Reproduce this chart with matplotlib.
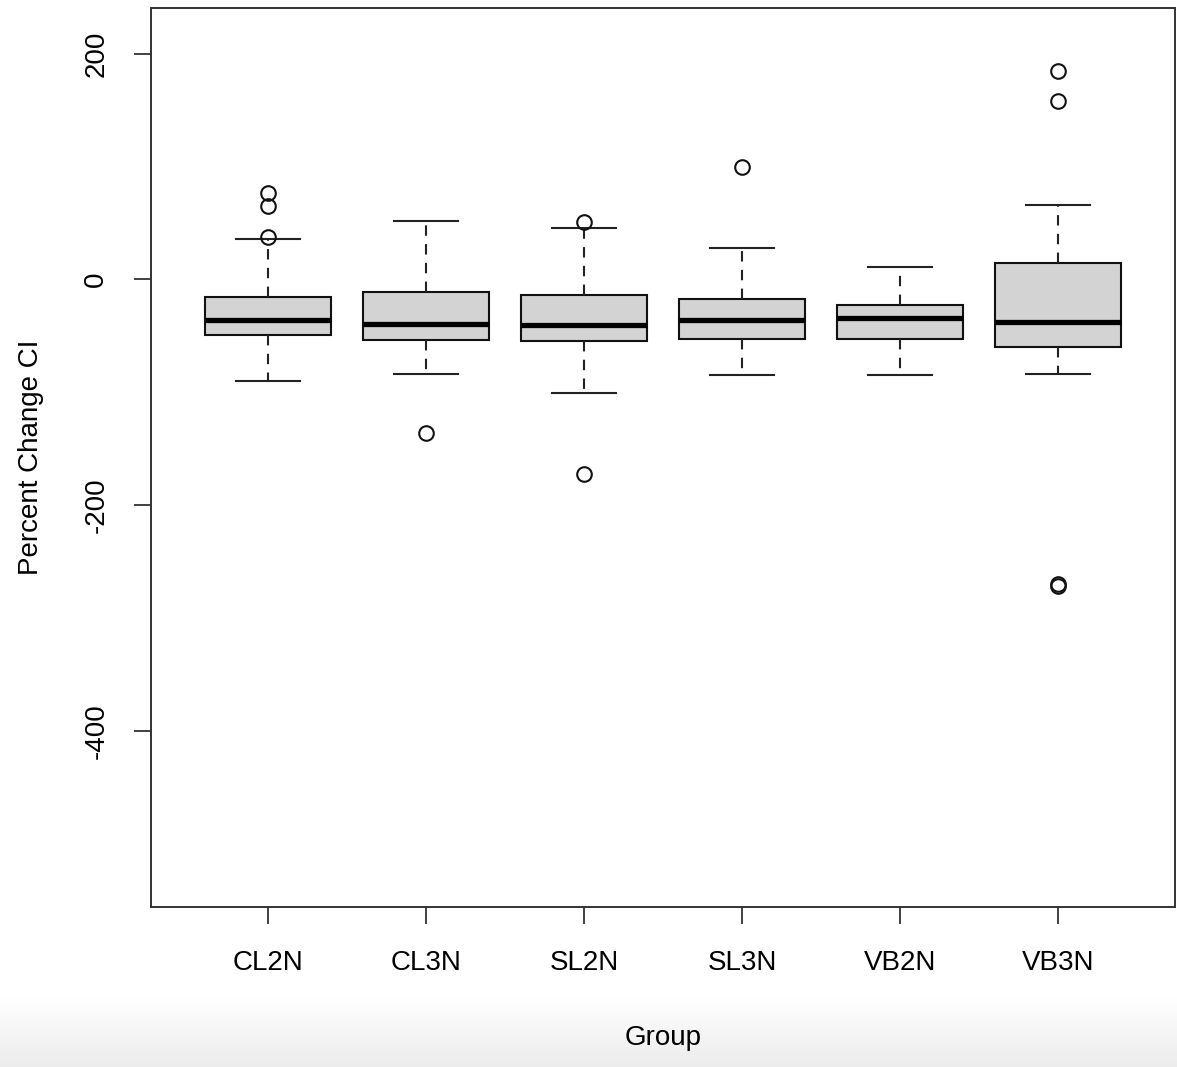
import matplotlib
matplotlib.use("Agg")
import matplotlib.pyplot as plt
import numpy as np

plt.rcParams['font.family'] = ['Liberation Sans', 'DejaVu Sans']

groups = ["CL2N", "CL3N", "SL2N", "SL3N", "VB2N", "VB3N"]
whislo = [-89.7, -84.1, -100.6, -84.9, -84.2, -83.9]
q1 = [-49.0, -53.4, -54.6, -52.3, -52.7, -59.8]
med = [-36.0, -39.5, -40.1, -36.3, -34.2, -37.5]
q3 = [-15.1, -10.9, -13.8, -17.3, -22.9, 14.3]
whishi = [36.0, 51.4, 45.8, 27.7, 11.3, 66.2]
fliers = [
    [76.5, 64.7, 37.5],
    [-136.1],
    [50.5, -172.0],
    [99.5],
    [],
    [184.1, 157.6, -269.5, -271.0],
]
yticks = [200, 0, -200, -400]

W, H = 1177, 1067
fig = plt.figure(figsize=(W / 100, H / 100), dpi=100)

# faint screenshot gradient at the bottom
gax = fig.add_axes([0, 0, 1, 0.065], zorder=-5)
grad = np.linspace(0, 1, 100).reshape(-1, 1)
gax.imshow(grad, aspect='auto', cmap=matplotlib.colors.LinearSegmentedColormap.from_list(
    'g', ['#ececec', '#ffffff']), extent=[0, 1, 0, 1], origin='lower')
gax.set_axis_off()

ax = fig.add_axes([151 / W, 1 - 907 / H, (1175 - 151) / W, (907 - 8) / H])
ax.patch.set_alpha(0)

stats = []
for i, g in enumerate(groups):
    stats.append(dict(label=g, whislo=whislo[i], q1=q1[i], med=med[i],
                      q3=q3[i], whishi=whishi[i], fliers=fliers[i]))

pos = np.arange(1, len(groups) + 1)
ax.bxp(stats, positions=pos, widths=0.8, capwidths=0.4, patch_artist=True,
       showfliers=True,
       boxprops=dict(facecolor='#d3d3d3', edgecolor='#111111', linewidth=1.5),
       medianprops=dict(color='black', linewidth=3.8, solid_capstyle='butt'),
       whiskerprops=dict(color='#222222', linewidth=1.5, linestyle=(0, (5, 4))),
       capprops=dict(color='#222222', linewidth=1.5),
       flierprops=dict(marker='o', markersize=10.5, markerfacecolor='none',
                       markeredgecolor='#111111', markeredgewidth=1.5, linestyle='none'))

ax.set_xlim(0.26, 6.74)
ax.set_ylim(-555.5, 240.3)
ax.set_xticks(pos)
ax.set_xticklabels(groups, fontsize=20)
ax.set_yticks(yticks)
ax.set_yticklabels([str(v) for v in yticks], fontsize=20, rotation=90, va='center')
ax.tick_params(axis='both', length=12, width=1.3, color='#333333', direction='out')
ax.tick_params(axis='x', pad=19)
ax.tick_params(axis='y', pad=18)
for s in ax.spines.values():
    s.set_linewidth(1.4)
    s.set_color('#333333')

ax.set_xlabel("Group", fontsize=20, labelpad=35)
ax.set_ylabel("Percent Change CI", fontsize=20, labelpad=28)

fig.savefig("out.png", dpi=100)
